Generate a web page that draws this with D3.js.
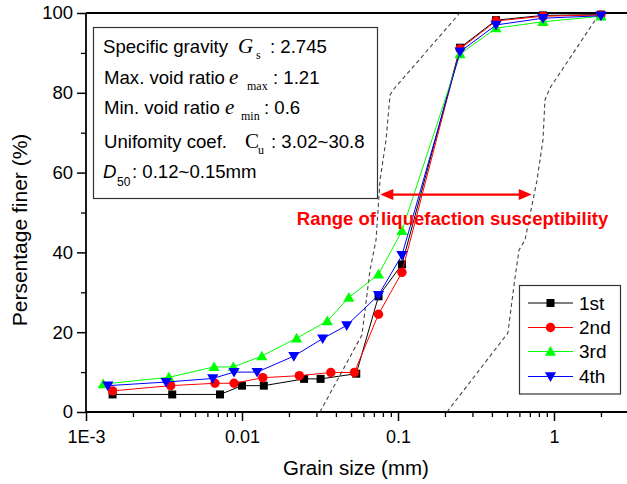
<!DOCTYPE html>
<html>
<head>
<meta charset="utf-8">
<script src="https://cdn.jsdelivr.net/npm/d3@7"></script>
<style>
  html, body { margin: 0; padding: 0; background: #fff; }
  svg { display: block; }
</style>
</head>
<body>
<svg id="chart" width="627" height="484"></svg>
<script>
// ---------------- DATA ----------------
const seriesNames = ["1st", "2nd", "3rd", "4th"];
const seriesColors = ["#000000", "#ff0000", "#00ff00", "#0000ff"];
const seriesMarkers = ["square", "circle", "triangleUp", "triangleDown"];

const sieveSizes = [0.075, 0.106, 0.25, 0.425, 0.85, 2.0];

const x1st = [0.00148, 0.00357, 0.00723, 0.0100, 0.0138, 0.0250, 0.0319, 0.0540];
const y1st = [4.4, 4.4, 4.4, 6.6, 6.6, 8.3, 8.3, 9.6, 29.0, 37.0, 91.3, 98.2, 99.4, 99.6];

const x2nd = [0.00148, 0.00349, 0.00671, 0.00889, 0.0136, 0.0233, 0.0371, 0.0525];
const y2nd = [5.3, 6.6, 7.2, 7.2, 8.6, 9.1, 9.9, 9.9, 24.5, 35.0, 91.0, 98.0, 99.2, 99.5];

const x3rd = [0.00129, 0.0034, 0.00662, 0.0088, 0.0134, 0.0224, 0.0352, 0.0484];
const y3rd = [7.0, 8.7, 11.3, 11.3, 14.0, 18.5, 22.8, 28.7, 34.5, 45.4, 89.7, 96.2, 97.8, 99.2];

const x4th = [0.00138, 0.00326, 0.00649, 0.00889, 0.0125, 0.0215, 0.0329, 0.0469];
const y4th = [6.6, 7.5, 8.4, 10.0, 10.0, 14.0, 18.4, 21.7, 29.3, 39.3, 90.3, 97.0, 98.7, 99.3];

// Boundaries of "Range of liquefaction susceptibility"
const leftBoundX  = [0.0316, 0.0587, 0.0662, 0.0723, 0.0767, 0.0838, 0.0889, 0.0929, 0.249];
const leftBoundY  = [0, 19.3, 35.6, 43.1, 58.1, 68.2, 79.4, 80.7, 100];
const rightBoundX = [0.206, 0.506, 0.563, 0.597, 0.652, 0.778, 0.85, 0.875, 0.942, 1.97];
const rightBoundY = [0, 19.8, 33.8, 40.6, 43.1, 58.1, 68.2, 78.2, 81.2, 100];

const xMajorTicks = [0.001, 0.01, 0.1, 1];
const xTickLabels = ["1E-3", "0.01", "0.1", "1"];
const yMajorTicks = [0, 20, 40, 60, 80, 100];
const yMinorTicks = [10, 30, 50, 70, 90];

const arrowRange = [0.077, 0.72];
const arrowLevel = 54.5;

// ---------------- CHART ----------------
const svg = d3.select("#chart");
const FONT = "'Liberation Sans', Arial, sans-serif";
const SERIF = "'Liberation Serif', 'Times New Roman', serif";

const x = d3.scaleLog().domain([0.001, 10]).range([86, 710]);
const y = d3.scaleLinear().domain([0, 100]).range([412, 13]);

svg.append("rect").attr("width", 627).attr("height", 484).attr("fill", "#fff");

// minor ticks for log axis (only those inside the picture)
const xMinor = [];
for (let d = 0.001; d < 10; d *= 10) {
  for (let k = 2; k <= 9; k++) if (x(d * k) < 627) xMinor.push(d * k);
}

// X axis
const gx = svg.append("g").attr("transform", `translate(0,${y(0)})`);
gx.append("g").call(d3.axisBottom(x).tickValues(xMinor).tickSize(5).tickFormat(""))
  .call(g => g.select(".domain").remove())
  .selectAll("line").attr("stroke", "#000").attr("stroke-width", 1.3);
gx.append("g").call(d3.axisBottom(x).tickValues(xMajorTicks).tickSize(9).tickPadding(9)
    .tickFormat((d, i) => xTickLabels[i]))
  .call(g => g.select(".domain").remove())
  .call(g => g.selectAll("line").attr("stroke", "#000").attr("stroke-width", 1.5))
  .call(g => g.selectAll("text").attr("font-family", FONT).attr("font-size", 18).attr("fill", "#000"));
gx.append("line").attr("x1", 86).attr("x2", 627).attr("y1", 0).attr("y2", 0)
  .attr("stroke", "#000").attr("stroke-width", 1.8);

// Y axis
const gy = svg.append("g").attr("transform", `translate(${x(0.001)},0)`);
gy.append("g").call(d3.axisLeft(y).tickValues(yMinorTicks).tickSize(5).tickFormat(""))
  .call(g => g.select(".domain").remove())
  .selectAll("line").attr("stroke", "#000").attr("stroke-width", 1.3);
gy.append("g").call(d3.axisLeft(y).tickValues(yMajorTicks).tickSize(9).tickPadding(4).tickFormat(d3.format("d")))
  .call(g => g.select(".domain").remove())
  .call(g => g.selectAll("line").attr("stroke", "#000").attr("stroke-width", 1.5))
  .call(g => g.selectAll("text").attr("font-family", FONT).attr("font-size", 18.5).attr("fill", "#000"));
gy.append("line").attr("x1", 0).attr("x2", 0).attr("y1", y(0)).attr("y2", y(100))
  .attr("stroke", "#000").attr("stroke-width", 1.8);

// top frame
svg.append("line").attr("x1", 86).attr("x2", 627).attr("y1", y(100)).attr("y2", y(100))
  .attr("stroke", "#000").attr("stroke-width", 1.8);

// Axis titles
svg.append("text").attr("x", 356).attr("y", 475).attr("text-anchor", "middle")
  .attr("font-family", FONT).attr("font-size", 20.5).text("Grain size (mm)");
svg.append("text").attr("transform", "translate(27,230) rotate(-90)").attr("text-anchor", "middle")
  .attr("font-family", FONT).attr("font-size", 21).text("Persentage finer (%)");

// Boundary dashed lines
const line = d3.line().x(d => x(d[0])).y(d => y(d[1]));
[[leftBoundX, leftBoundY], [rightBoundX, rightBoundY]].forEach(([bx, by]) => {
  svg.append("path").datum(bx.map((v, i) => [v, by[i]]))
    .attr("d", line).attr("fill", "none").attr("stroke", "#444")
    .attr("stroke-width", 1.1).attr("stroke-dasharray", "4,3");
});

// Series
const xs = [x1st, x2nd, x3rd, x4th];
const ys = [y1st, y2nd, y3rd, y4th];

function markerPath(type) {
  if (type === "square") return "M-4,-4H4V4H-4Z";
  if (type === "triangleUp") return "M0,-5.5L5.6,4.2L-5.6,4.2Z";
  if (type === "triangleDown") return "M0,5.5L5.6,-4.2L-5.6,-4.2Z";
  return null;
}
function drawMarker(g, type, cx, cy, color) {
  if (type === "circle") {
    g.append("circle").attr("cx", cx).attr("cy", cy).attr("r", 4.7).attr("fill", color);
  } else {
    g.append("path").attr("d", markerPath(type)).attr("transform", `translate(${cx},${cy})`).attr("fill", color);
  }
}

seriesNames.forEach((name, si) => {
  const xv = xs[si].concat(sieveSizes);
  const pts = xv.map((v, i) => [v, ys[si][i]]);
  const g = svg.append("g");
  g.append("path").datum(pts).attr("d", line).attr("fill", "none")
    .attr("stroke", seriesColors[si]).attr("stroke-width", 1);
  pts.forEach(p => drawMarker(g, seriesMarkers[si], x(p[0]), y(p[1]), seriesColors[si]));
});

// Info box
svg.append("rect").attr("x", 93.5).attr("y", 27.5).attr("width", 284).attr("height", 171)
  .attr("fill", "#fff").attr("stroke", "#333").attr("stroke-width", 1.2);

function infoLine(parts, yb) {
  const t = svg.append("text").attr("y", yb).attr("font-family", FONT).attr("font-size", 18.6).attr("fill", "#000");
  parts.forEach(p => {
    const s = t.append("tspan").attr("x", p.x).attr("y", yb + (p.dy || 0)).text(p.t);
    if (p.serif) s.attr("font-family", SERIF);
    if (p.italic) s.attr("font-style", "italic");
    if (p.size) s.attr("font-size", p.size);
  });
}
infoLine([
  { t: "Specific gravity", x: 103 },
  { t: "G", x: 238, serif: true, italic: true, size: 21 },
  { t: "s", x: 256, serif: true, size: 12, dy: 6 },
  { t: ": 2.745", x: 270 }
], 53);
infoLine([
  { t: "Max. void ratio", x: 104 },
  { t: "e", x: 229, serif: true, italic: true, size: 21 },
  { t: "max", x: 247, serif: true, size: 12, dy: 6 },
  { t: ": 1.21", x: 273 }
], 84);
infoLine([
  { t: "Min. void ratio", x: 104 },
  { t: "e", x: 225, serif: true, italic: true, size: 21 },
  { t: "min", x: 241, serif: true, size: 12, dy: 6 },
  { t: ": 0.6", x: 264 }
], 114);
infoLine([
  { t: "Unifomity coef.", x: 104 },
  { t: "C", x: 245, serif: true, size: 21 },
  { t: "u", x: 258, serif: true, size: 12, dy: 6 },
  { t: ": 3.02~30.8", x: 271 }
], 148);
infoLine([
  { t: "D", x: 103, italic: true },
  { t: "50", x: 117, size: 12, dy: 8 },
  { t: ": 0.12~0.15mm", x: 132 }
], 178);

// Arrow
const ay = y(arrowLevel);
const ax1 = x(arrowRange[0]), ax2 = x(arrowRange[1]);
svg.append("line").attr("x1", ax1 + 8).attr("x2", ax2 - 8).attr("y1", ay).attr("y2", ay)
  .attr("stroke", "#ff0000").attr("stroke-width", 2.2);
svg.append("path").attr("d", `M${ax1},${ay}L${ax1 + 13},${ay - 5.5}L${ax1 + 13},${ay + 5.5}Z`).attr("fill", "#ff0000");
svg.append("path").attr("d", `M${ax2},${ay}L${ax2 - 13},${ay - 5.5}L${ax2 - 13},${ay + 5.5}Z`).attr("fill", "#ff0000");
svg.append("text").attr("x", 452.5).attr("y", 225).attr("text-anchor", "middle")
  .attr("font-family", FONT).attr("font-weight", "bold").attr("font-size", 18.5)
  .attr("fill", "#ff0000").text("Range of liquefaction susceptibility");

// Legend
const lg = svg.append("g");
lg.append("rect").attr("x", 519.5).attr("y", 285.5).attr("width", 101).attr("height", 108.5)
  .attr("fill", "#fff").attr("stroke", "#333").attr("stroke-width", 1.2);
const legendRows = [303, 327.5, 351.5, 376.5];
seriesNames.forEach((name, i) => {
  const ry = legendRows[i];
  lg.append("line").attr("x1", 528).attr("x2", 573).attr("y1", ry).attr("y2", ry)
    .attr("stroke", seriesColors[i]).attr("stroke-width", 1);
  drawMarker(lg, seriesMarkers[i], 550.5, ry, seriesColors[i]);
  lg.append("text").attr("x", 579).attr("y", ry + 6.5).attr("font-family", FONT)
    .attr("font-size", 19).attr("fill", "#000").text(name);
});
</script>
</body>
</html>
